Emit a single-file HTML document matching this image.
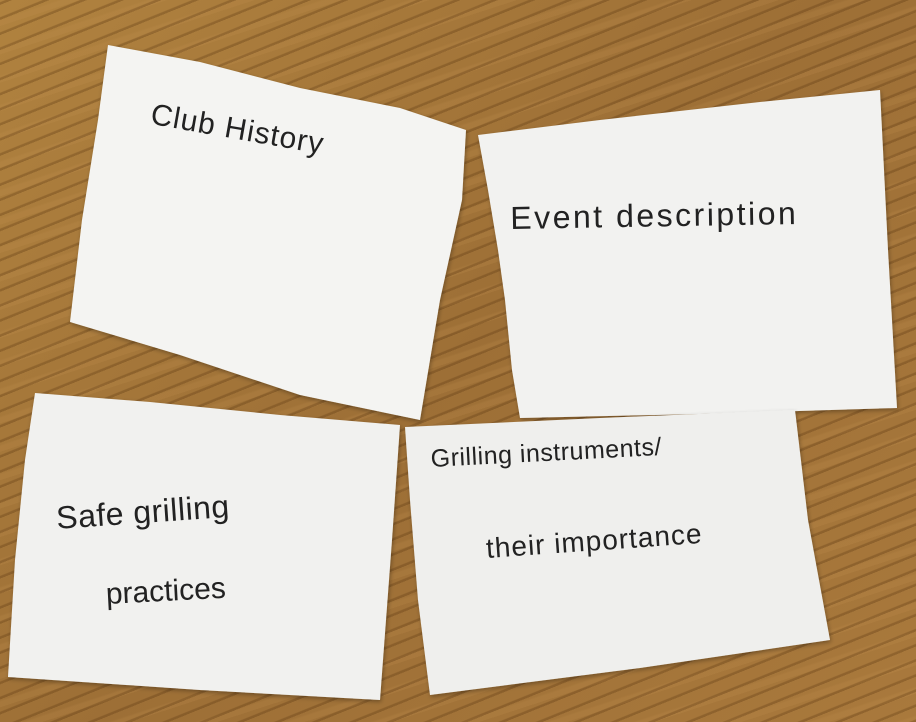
<!DOCTYPE html>
<html><head><meta charset="utf-8"><style>
html,body{margin:0;padding:0;}
body{width:916px;height:722px;overflow:hidden;position:relative;
background:#a6783b;
background-image:
repeating-linear-gradient(-22deg, rgba(80,45,10,0.28) 0px, rgba(80,45,10,0.28) 2px, transparent 3px, transparent 14px),
repeating-linear-gradient(-18deg, rgba(195,145,80,0.2) 0px, rgba(195,145,80,0.2) 5px, transparent 7px, transparent 27px),
linear-gradient(135deg,#b0823f,#9d6f36 50%,#a9793c);}
svg{position:absolute;left:0;top:0;}
.t{position:absolute;font-family:"Liberation Sans",sans-serif;color:#222;white-space:nowrap;transform-origin:left top;}
</style></head><body>
<svg width="916" height="722">
<defs><filter id="s"><feDropShadow dx="1" dy="2" stdDeviation="2" flood-opacity="0.3"/></filter></defs>
<polygon filter="url(#s)" fill="#f4f4f2" points="108,45 200,62 300,88 400,108 466,130 462,200 440,300 420,420 300,395 180,355 70,322 82,220 98,120"/>
<polygon filter="url(#s)" fill="#f2f2f0" points="478,135 600,120 760,102 880,90 888,250 897,408 700,414 520,418 512,370 505,300 498,250 488,190"/>
<polygon filter="url(#s)" fill="#f1f1ef" points="35,393 150,402 280,415 400,425 392,540 380,700 200,690 8,677 15,560 25,460"/>
<polygon filter="url(#s)" fill="#efefed" points="405,427 600,418 795,410 808,520 830,640 640,668 430,695 418,600 410,500"/>
</svg>
<div class="t" style="left:154px;top:98px;font-size:30px;letter-spacing:1px;transform:rotate(10deg);">Club History</div>
<div class="t" style="left:510px;top:200px;font-size:32px;letter-spacing:2.5px;transform:rotate(-1deg);">Event description</div>
<div class="t" style="left:55px;top:500px;font-size:32px;letter-spacing:0.5px;transform:rotate(-4deg);">Safe grilling</div>
<div class="t" style="left:105px;top:578px;font-size:30px;transform:rotate(-3deg);">practices</div>
<div class="t" style="left:430px;top:445px;font-size:25px;letter-spacing:0.5px;transform:rotate(-3deg);">Grilling instruments/</div>
<div class="t" style="left:485px;top:533px;font-size:28px;letter-spacing:1px;transform:rotate(-4deg);">their importance</div>
</body></html>
